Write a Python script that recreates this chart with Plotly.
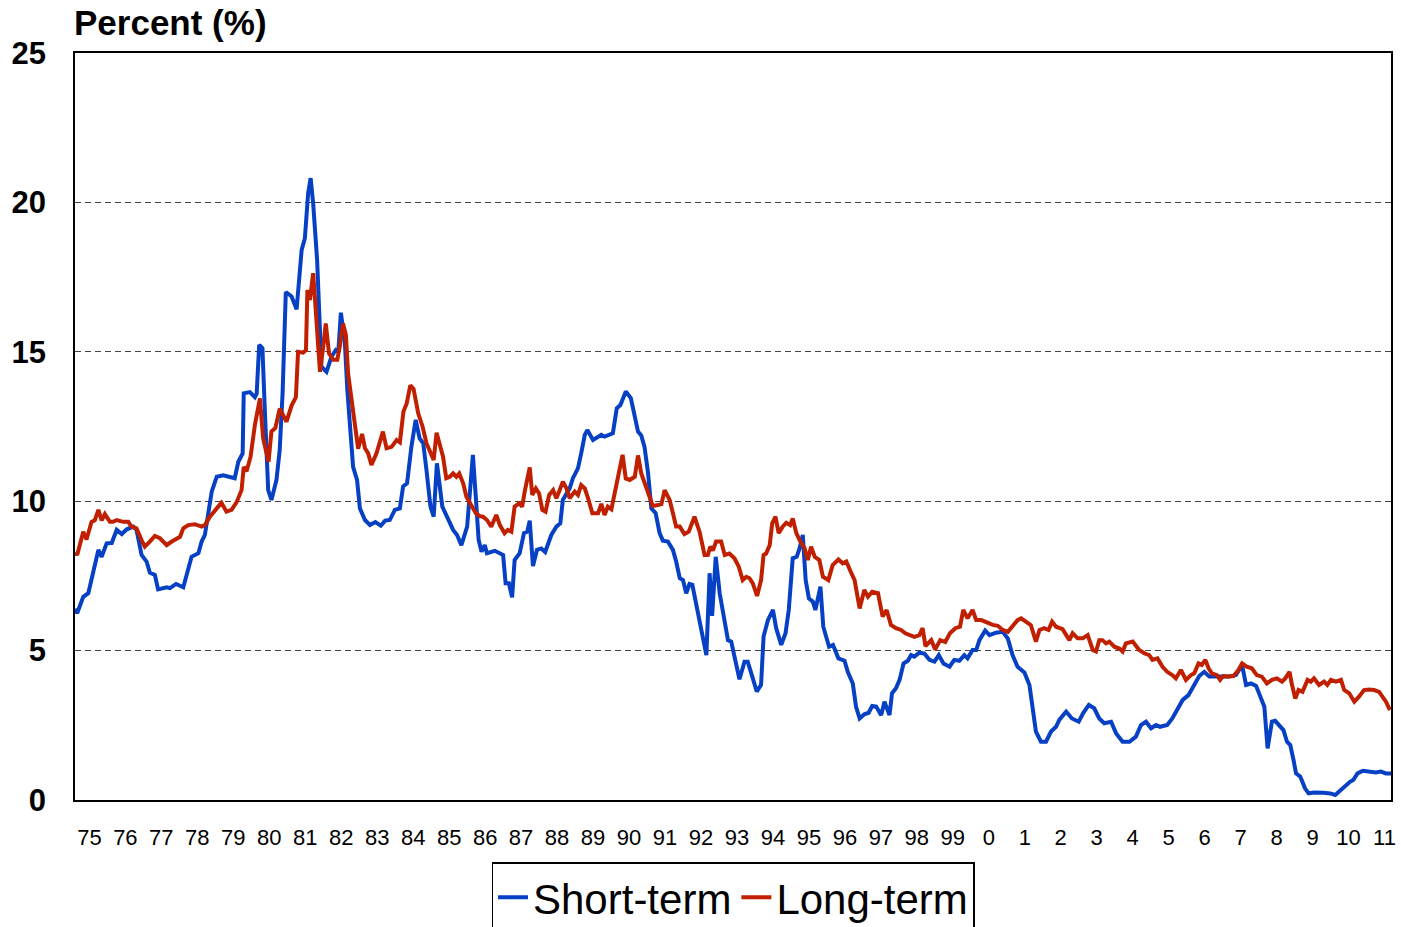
import plotly.graph_objects as go

# ---- data ----
short_years = [
1975.00,1975.06,1975.23,1975.37,1975.65,1975.74,1975.88,1976.02,1976.16,1976.30,1976.44,1976.62,1976.71,1976.85,1976.99,
1977.08,1977.22,1977.31,1977.55,1977.64,1977.81,1978.01,1978.24,1978.43,1978.52,1978.61,1978.80,1978.94,1979.12,1979.28,
1979.44,1979.54,1979.66,1979.69,1979.86,1980.00,1980.05,1980.12,1980.21,1980.28,1980.37,1980.46,1980.60,1980.69,1980.77,
1980.86,1981.02,1981.16,1981.30,1981.39,1981.48,1981.55,1981.62,1981.73,1981.85,1981.99,1982.13,1982.25,1982.32,1982.39,
1982.50,1982.57,1982.73,1982.84,1982.92,1983.06,1983.20,1983.35,1983.50,1983.62,1983.75,1983.89,1984.03,1984.12,1984.23,
1984.35,1984.47,1984.58,1984.68,1984.77,1984.88,1984.97,1985.06,1985.21,1985.37,1985.51,1985.62,1985.74,1985.90,1985.97,
1986.06,1986.14,1986.22,1986.30,1986.39,1986.45,1986.67,1986.90,1986.97,1987.06,1987.15,1987.22,1987.36,1987.48,1987.57,
1987.64,1987.73,1987.84,1987.96,1988.07,1988.24,1988.38,1988.49,1988.56,1988.75,1988.84,1988.98,1989.07,1989.17,1989.24,
1989.40,1989.63,1989.72,1989.95,1990.06,1990.16,1990.31,1990.45,1990.56,1990.65,1990.74,1990.83,1990.93,1991.02,1991.14,
1991.25,1991.34,1991.48,1991.62,1991.71,1991.81,1991.90,1991.99,1992.08,1992.16,1992.27,1992.41,1992.55,1992.64,1992.71,
1992.81,1992.92,1993.06,1993.15,1993.24,1993.38,1993.47,1993.61,1993.70,1993.84,1993.95,1994.07,1994.14,1994.26,1994.40,
1994.49,1994.63,1994.75,1994.84,1994.95,1995.06,1995.14,1995.23,1995.31,1995.40,1995.51,1995.58,1995.72,1995.80,1995.96,
1996.07,1996.22,1996.39,1996.48,1996.62,1996.71,1996.81,1996.94,1997.06,1997.16,1997.27,1997.41,1997.50,1997.64,1997.71,
1997.82,1997.92,1998.03,1998.15,1998.24,1998.33,1998.47,1998.61,1998.75,1998.89,1999.01,1999.14,1999.31,1999.44,1999.58,
1999.72,1999.81,1999.95,2000.05,2000.14,2000.30,2000.42,2000.60,2000.79,2000.93,2001.06,2001.20,2001.39,2001.53,2001.62,
2001.71,2001.85,2001.99,2002.13,2002.27,2002.36,2002.55,2002.71,2002.90,2003.02,2003.18,2003.33,2003.47,2003.61,2003.80,
2003.94,2004.12,2004.31,2004.49,2004.63,2004.77,2004.91,2005.05,2005.16,2005.36,2005.50,2005.63,2005.79,2005.95,2006.11,
2006.25,2006.39,2006.53,2006.81,2007.08,2007.27,2007.44,2007.55,2007.69,2007.83,2007.97,2008.06,2008.15,2008.27,2008.36,
2008.50,2008.59,2008.69,2008.78,2008.87,2008.94,2009.06,2009.19,2009.29,2009.43,2009.70,2009.89,2010.03,2010.17,2010.31,
2010.44,2010.53,2010.65,2010.80,2010.97,2011.16,2011.30,2011.44,2011.58]
short_rate = [
6.40,6.25,6.80,6.92,8.37,8.14,8.59,8.60,9.04,8.90,9.06,9.15,9.04,8.20,7.98,
7.61,7.53,7.05,7.12,7.09,7.23,7.12,8.14,8.26,8.65,8.87,10.32,10.82,10.87,10.82,
10.77,11.32,11.60,13.61,13.65,13.48,13.60,15.23,15.12,12.94,10.37,10.04,10.71,11.71,13.61,
17.00,16.85,16.42,18.41,18.80,20.30,20.81,19.97,18.07,14.50,14.33,14.84,15.06,15.00,16.31,
15.34,13.72,11.15,10.71,9.76,9.37,9.20,9.30,9.18,9.35,9.37,9.71,9.76,10.49,10.60,
11.82,12.72,12.10,11.94,11.04,9.82,9.48,11.27,9.82,9.37,9.04,8.87,8.53,9.15,10.26,
11.55,10.15,8.70,8.31,8.53,8.26,8.34,8.20,7.25,7.25,6.78,8.03,8.26,8.93,8.98,
9.35,7.83,8.37,8.42,8.30,8.87,9.15,9.26,10.04,10.43,10.77,11.10,11.60,12.22,12.38,
12.05,12.22,12.16,12.27,13.11,13.22,13.67,13.45,12.83,12.33,12.20,11.82,10.93,9.76,9.60,
8.93,8.68,8.65,8.37,7.98,7.42,7.36,6.92,7.23,7.20,6.47,5.69,4.85,7.59,6.16,
8.14,6.92,6.02,5.35,5.30,4.57,4.04,4.63,4.63,4.07,3.63,3.85,5.47,6.02,6.36,
5.75,5.19,5.58,6.36,8.09,8.14,8.42,8.87,7.36,6.75,6.64,6.36,7.14,5.80,5.13,
5.19,4.74,4.66,4.29,3.90,3.12,2.73,2.87,2.92,3.15,3.13,2.84,3.29,2.84,3.57,
3.74,4.02,4.57,4.66,4.85,4.80,4.93,4.90,4.69,4.63,4.85,4.57,4.46,4.69,4.66,
4.85,4.74,5.02,5.02,5.35,5.67,5.52,5.60,5.63,5.40,4.85,4.46,4.27,3.85,3.12,
2.29,1.95,1.95,2.29,2.45,2.68,2.96,2.73,2.62,2.90,3.18,3.07,2.73,2.57,2.62,
2.23,1.95,1.95,2.12,2.51,2.62,2.40,2.51,2.45,2.51,2.73,3.01,3.35,3.51,3.85,
4.15,4.29,4.13,4.13,4.13,4.18,4.52,3.85,3.90,3.82,3.40,3.12,1.73,2.62,2.65,
2.45,2.34,1.95,1.84,1.34,0.89,0.78,0.39,0.22,0.25,0.24,0.22,0.17,0.33,0.50,
0.61,0.67,0.89,0.98,0.95,0.92,0.95,0.89,0.89]

long_years = [
1975.00,1975.06,1975.23,1975.32,1975.46,1975.55,1975.65,1975.74,1975.83,1975.97,1976.06,1976.16,1976.34,1976.48,1976.57,
1976.71,1976.85,1976.94,1977.08,1977.22,1977.36,1977.55,1977.69,1977.82,1977.92,1978.01,1978.15,1978.33,1978.52,1978.61,
1978.75,1978.94,1979.07,1979.21,1979.35,1979.49,1979.63,1979.69,1979.77,1979.88,1980.00,1980.14,1980.23,1980.38,1980.46,
1980.57,1980.69,1980.88,1981.02,1981.14,1981.20,1981.34,1981.42,1981.46,1981.53,1981.62,1981.69,1981.81,1981.90,1981.97,
1982.06,1982.18,1982.29,1982.36,1982.45,1982.53,1982.59,1982.69,1982.78,1982.87,1982.98,1983.06,1983.15,1983.24,1983.38,
1983.56,1983.66,1983.80,1983.94,1984.03,1984.13,1984.22,1984.32,1984.41,1984.54,1984.66,1984.77,1984.88,1984.97,1985.05,
1985.14,1985.23,1985.32,1985.42,1985.51,1985.60,1985.68,1985.79,1985.88,1986.02,1986.14,1986.25,1986.34,1986.45,1986.57,
1986.71,1986.81,1986.94,1987.03,1987.13,1987.22,1987.34,1987.43,1987.50,1987.56,1987.64,1987.71,1987.81,1987.90,1987.99,
1988.08,1988.18,1988.29,1988.38,1988.47,1988.56,1988.66,1988.75,1988.89,1988.98,1989.07,1989.17,1989.26,1989.38,1989.54,
1989.63,1989.72,1989.81,1989.91,1990.00,1990.09,1990.22,1990.31,1990.42,1990.56,1990.65,1990.74,1990.86,1990.97,1991.06,
1991.20,1991.30,1991.39,1991.53,1991.62,1991.71,1991.81,1991.94,1992.06,1992.22,1992.36,1992.50,1992.59,1992.66,1992.73,
1992.82,1992.96,1993.06,1993.19,1993.33,1993.45,1993.56,1993.66,1993.75,1993.84,1993.96,1994.07,1994.14,1994.21,1994.31,
1994.38,1994.47,1994.56,1994.67,1994.77,1994.88,1994.95,1995.05,1995.14,1995.28,1995.37,1995.46,1995.56,1995.69,1995.79,
1995.94,1996.06,1996.22,1996.34,1996.44,1996.58,1996.67,1996.81,1996.94,1997.04,1997.16,1997.32,1997.45,1997.56,1997.68,
1997.82,1997.96,1998.08,1998.19,1998.33,1998.47,1998.56,1998.64,1998.80,1998.91,1999.05,1999.19,1999.32,1999.47,1999.60,
1999.69,1999.81,1999.95,2000.05,2000.19,2000.37,2000.51,2000.65,2000.79,2000.93,2001.06,2001.20,2001.30,2001.44,2001.57,
2001.71,2001.81,2001.94,2002.06,2002.16,2002.27,2002.45,2002.64,2002.73,2002.87,2003.01,2003.15,2003.29,2003.38,2003.47,
2003.56,2003.66,2003.75,2003.89,2004.03,2004.12,2004.21,2004.40,2004.58,2004.72,2004.86,2004.95,2005.09,2005.23,2005.36,
2005.50,2005.60,2005.74,2005.88,2006.02,2006.11,2006.23,2006.32,2006.42,2006.51,2006.60,2006.74,2006.83,2006.92,2007.06,
2007.20,2007.34,2007.44,2007.57,2007.71,2007.85,2007.99,2008.13,2008.27,2008.41,2008.55,2008.64,2008.76,2008.82,2008.92,
2009.01,2009.12,2009.26,2009.35,2009.44,2009.58,2009.72,2009.81,2009.91,2010.05,2010.19,2010.28,2010.42,2010.56,2010.69,
2010.83,2010.97,2011.11,2011.25,2011.34,2011.44,2011.55]
long_rate = [
8.28,8.20,8.98,8.72,9.31,9.36,9.71,9.36,9.57,9.31,9.31,9.37,9.31,9.31,9.15,
9.09,8.70,8.48,8.65,8.84,8.76,8.53,8.65,8.76,8.81,9.09,9.20,9.23,9.15,9.20,
9.48,9.76,9.95,9.65,9.71,9.96,10.37,11.15,11.00,11.49,12.55,13.44,12.10,11.32,12.33,
12.45,13.10,12.66,13.20,13.48,15.00,14.97,15.06,17.07,16.73,17.63,16.40,14.33,15.17,15.95,
14.95,14.73,14.73,15.17,15.95,15.56,14.28,13.44,12.72,11.76,12.25,11.77,11.60,11.21,11.60,
12.33,11.77,11.82,12.05,11.97,13.00,13.27,13.88,13.76,12.94,12.50,11.94,11.66,11.38,12.29,
11.94,11.49,10.77,10.82,10.93,10.82,10.93,10.60,10.15,9.82,9.60,9.50,9.48,9.37,9.15,
9.54,9.20,8.93,9.04,8.98,9.82,9.93,9.82,10.32,10.71,11.13,10.21,10.43,10.26,9.71,
9.65,10.21,10.37,10.10,10.37,10.65,10.43,10.10,10.32,10.21,10.54,10.43,10.10,9.60,9.60,
9.91,9.54,9.82,9.73,10.26,10.82,11.55,10.76,10.71,10.82,11.53,10.93,10.54,10.21,9.84,
9.87,9.90,10.37,10.04,9.60,9.15,9.15,8.90,8.98,9.48,8.98,8.20,8.20,8.48,8.35,
8.65,8.65,8.20,8.25,8.09,7.81,7.36,7.47,7.42,7.25,6.83,7.36,8.20,8.25,8.53,
9.26,9.48,8.93,9.15,9.28,9.20,9.42,8.93,8.70,8.42,8.03,8.48,8.14,8.03,7.47,
7.36,7.86,8.05,7.92,7.98,7.59,7.36,6.41,7.03,6.80,6.97,6.92,6.14,6.36,5.86,
5.75,5.69,5.58,5.52,5.46,5.52,5.75,5.15,5.35,5.04,5.35,5.29,5.58,5.75,5.80,
6.36,6.08,6.36,6.02,6.02,5.91,5.86,5.83,5.69,5.63,5.80,6.02,6.08,5.97,5.85,
5.30,5.69,5.75,5.69,5.97,5.80,5.72,5.35,5.58,5.41,5.41,5.52,5.02,4.97,5.35,
5.35,5.24,5.30,5.13,5.07,4.97,5.24,5.30,5.02,4.91,4.85,4.69,4.74,4.46,4.29,
4.18,4.07,4.35,4.02,4.18,4.24,4.57,4.52,4.69,4.41,4.24,4.18,4.02,4.15,4.13,
4.15,4.35,4.57,4.46,4.41,4.18,4.13,3.90,4.02,4.07,3.96,4.07,4.29,3.90,3.40,
3.68,3.62,4.02,3.96,4.07,3.85,3.96,3.85,4.02,3.96,4.02,3.68,3.57,3.29,3.46,
3.68,3.70,3.68,3.62,3.46,3.29,3.01]

tick_years = list(range(1975, 2012))
tick_labels = ["75","76","77","78","79","80","81","82","83","84","85","86","87","88","89",
               "90","91","92","93","94","95","96","97","98","99","0","1","2","3","4",
               "5","6","7","8","9","10","11"]
y_ticks = [0, 5, 10, 15, 20, 25]

FONT = "Liberation Sans, Arial, sans-serif"

fig = go.Figure()
fig.add_trace(go.Scatter(x=short_years, y=short_rate, mode="lines", name="Short-term",
                         line=dict(color="#0640C4", width=4)))
fig.add_trace(go.Scatter(x=long_years, y=long_rate, mode="lines", name="Long-term",
                         line=dict(color="#C02000", width=4)))

fig.update_layout(
    width=1401, height=927,
    margin=dict(l=75, r=10, t=53, b=127, autoexpand=False),
    paper_bgcolor="white", plot_bgcolor="white",
    font=dict(family=FONT, color="black"),
    showlegend=True,
    legend=dict(orientation="h", x=0.5, xanchor="center", y=(800 - 862) / 747, yanchor="top",
                font=dict(size=42, family=FONT, color="black"),
                bordercolor="black", borderwidth=1.5, bgcolor="white",
                itemwidth=30, tracegroupgap=0),
    annotations=[dict(text="<b>Percent (%)</b>", xref="paper", yref="paper",
                      x=0, y=1 + (53 - 23) / 747, xanchor="left", yanchor="middle",
                      xshift=-3,
                      showarrow=False, font=dict(size=35, family=FONT, color="black"))],
)
fig.update_xaxes(range=[1975.0, 2011.58], automargin=False,
                 tickvals=[y + 0.4 for y in tick_years], ticktext=tick_labels,
                 tickfont=dict(size=22, family=FONT, color="black"),
                 ticks="", ticklabelstandoff=17, ticklabeloverflow="allow",
                 showgrid=False, zeroline=False,
                 showline=True, linecolor="black", linewidth=2, mirror=True)
fig.update_yaxes(range=[0, 25], tickvals=y_ticks, automargin=False,
                 ticktext=["<b>%d</b>" % v for v in y_ticks],
                 tickfont=dict(size=31, family=FONT, color="black"),
                 ticks="", ticklabelstandoff=21,
                 showgrid=True, gridcolor="#444444", gridwidth=1, griddash="6px,4px",
                 zeroline=False,
                 showline=True, linecolor="black", linewidth=1.5, mirror=True)

fig.write_html("out.html", config={"displayModeBar": False},
               post_script="document.body.style.margin='0';document.body.style.overflow='hidden';")
